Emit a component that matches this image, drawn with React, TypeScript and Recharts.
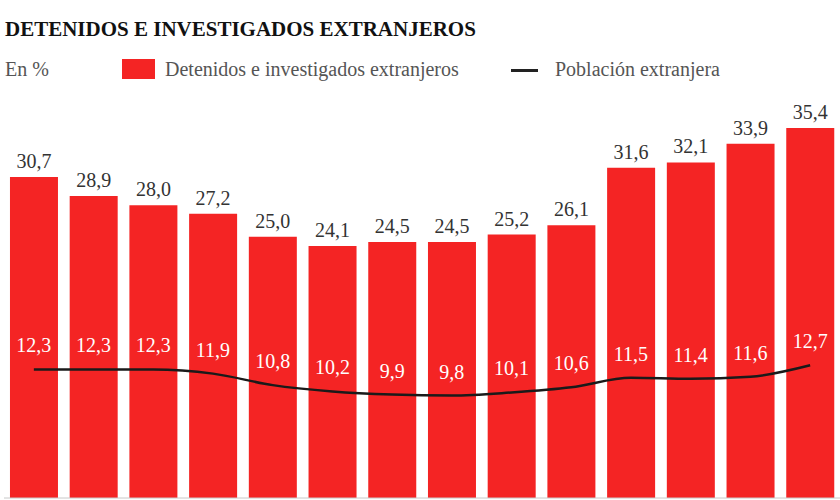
import { ComposedChart, Bar, Line, XAxis, YAxis, LabelList, ReferenceLine } from "recharts";

// Categories (the source shows no axis labels, one per year)
const periods = ["p1", "p2", "p3", "p4", "p5", "p6", "p7", "p8", "p9", "p10", "p11", "p12", "p13", "p14"];
// Detenidos e investigados extranjeros (%)
const detenidos = [30.7, 28.9, 28.0, 27.2, 25.0, 24.1, 24.5, 24.5, 25.2, 26.1, 31.6, 32.1, 33.9, 35.4];
// Población extranjera (%)
const poblacion = [12.3, 12.3, 12.3, 11.9, 10.8, 10.2, 9.9, 9.8, 10.1, 10.6, 11.5, 11.4, 11.6, 12.7];

const data = periods.map((p, i) => ({
  periodo: p,
  detenidos: detenidos[i],
  poblacion: poblacion[i],
}));

const RED = "#f42424";
const SERIF = "Liberation Serif, DejaVu Serif, serif";
const fmt = (v: any) => Number(v).toFixed(1).replace(".", ",");

export default function App() {
  return (
    <div
      style={{
        position: "absolute",
        top: 0,
        left: 0,
        width: 840,
        height: 500,
        background: "#fff",
        fontFamily: SERIF,
        overflow: "hidden",
      }}
    >
      <div
        style={{
          position: "absolute",
          left: 5,
          top: 17,
          fontSize: 21,
          fontWeight: "bold",
          color: "#111",
          whiteSpace: "nowrap",
        }}
      >
        DETENIDOS E INVESTIGADOS EXTRANJEROS
      </div>
      <div style={{ position: "absolute", left: 5, top: 58, fontSize: 20, color: "#555" }}>En %</div>
      <div style={{ position: "absolute", left: 122, top: 59, width: 33, height: 20, background: RED }} />
      <div style={{ position: "absolute", left: 165, top: 58, fontSize: 20, color: "#555", whiteSpace: "nowrap" }}>
        Detenidos e investigados extranjeros
      </div>
      <div style={{ position: "absolute", left: 511, top: 69, width: 27, height: 3, background: "#222" }} />
      <div style={{ position: "absolute", left: 555, top: 58, fontSize: 20, color: "#555", whiteSpace: "nowrap" }}>
        Población extranjera
      </div>

      <div style={{ position: "absolute", left: 0, top: 0 }}>
        <ComposedChart
          width={840}
          height={500}
          data={data}
          margin={{ top: 128, right: 0, left: 4, bottom: 2 }}
          barCategoryGap="10%"
        >
          <XAxis dataKey="periodo" hide />
          <YAxis hide domain={[0, 35.4]} />
          <ReferenceLine y={0} stroke="#c8c8c8" strokeWidth={1} />
          <Bar dataKey="detenidos" fill={RED} isAnimationActive={false}>
            <LabelList
              dataKey="detenidos"
              position="top"
              offset={9}
              formatter={fmt}
              fill="#333"
              fontSize={20}
              fontFamily={SERIF}
            />
          </Bar>
          <Line
            dataKey="poblacion"
            type="monotone"
            stroke="#1a1a1a"
            strokeWidth={2.5}
            dot={false}
            isAnimationActive={false}
          >
            <LabelList
              dataKey="poblacion"
              position="top"
              offset={17}
              formatter={fmt}
              fill="#fff"
              fontSize={20}
              fontFamily={SERIF}
            />
          </Line>
        </ComposedChart>
      </div>
    </div>
  );
}
